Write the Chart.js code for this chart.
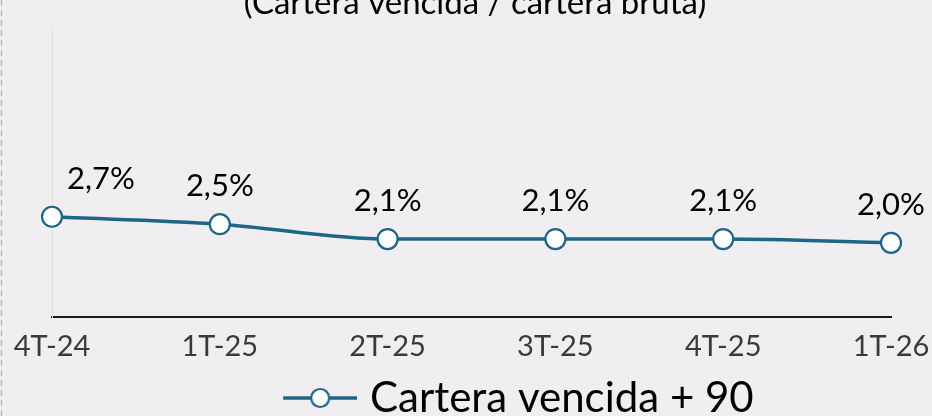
<!DOCTYPE html>
<html>
<head>
<meta charset="utf-8">
<script src="https://cdn.jsdelivr.net/npm/chart.js@4.4.1/dist/chart.umd.min.js"></script>
<style>
    html, body { margin: 0; padding: 0; background: #f0eef1; }
    #myChart { display: block; }
</style>
</head>
<body>
<canvas id="myChart" width="932" height="416"></canvas>
<script>
var quarters = ['4T-24', '1T-25', '2T-25', '3T-25', '4T-25', '1T-26'];
var carteraVencida = [2.7, 2.5, 2.1, 2.1, 2.1, 2.0];
var valueLabels = ['2,7%', '2,5%', '2,1%', '2,1%', '2,1%', '2,0%'];
var seriesName = 'Cartera vencida + 90';
var titleText = '(Cartera vencida / cartera bruta)';

var lineColor = '#1d6687';
var fontFamily = 'Lato, "DejaVu Sans", sans-serif';
var legendFontSize = 42;
var legendPadding = 1;

// legend marker: short line with a hollow circle, sitting at the right end of a wider box
var measure = document.createElement('canvas').getContext('2d');
measure.font = legendFontSize + 'px ' + fontFamily;
var legendTextWidth = measure.measureText(seriesName).width;
var legendBoxWidth = Math.max(legendTextWidth - 203 - legendFontSize / 2, 80);
var legendStart = 370 - legendBoxWidth - legendFontSize / 2;
var markerCenter = legendStart + legendBoxWidth / 2;
var markerWidth = Math.round(2 * (357 - markerCenter));

var marker = document.createElement('canvas');
marker.width = markerWidth;
marker.height = 26;
var m = marker.getContext('2d');
m.strokeStyle = lineColor;
m.lineWidth = 3.5;
m.beginPath();
m.moveTo(markerWidth - 74, 13);
m.lineTo(markerWidth, 13);
m.stroke();
m.beginPath();
m.arc(markerWidth - 37, 13, 9, 0, Math.PI * 2);
m.fillStyle = '#ffffff';
m.fill();
m.lineWidth = 2.2;
m.stroke();

var decorations = {
    id: 'decorations',
    beforeDraw: function (chart) {
        var c = chart.ctx;
        c.save();
        c.fillStyle = '#f0eef1';
        c.fillRect(0, 0, chart.width, chart.height);
        c.strokeStyle = '#bdbdbd';
        c.lineWidth = 1.5;
        c.setLineDash([6, 4]);
        c.beginPath();
        c.moveTo(1.5, 0);
        c.lineTo(1.5, chart.height);
        c.stroke();
        c.setLineDash([]);
        c.fillStyle = '#000000';
        c.font = '33px ' + fontFamily;
        c.textAlign = 'center';
        c.textBaseline = 'alphabetic';
        c.fillText(titleText, 475, 14);
        c.restore();
    },
    afterDatasetsDraw: function (chart) {
        var c = chart.ctx;
        var meta = chart.getDatasetMeta(0);
        c.save();
        c.fillStyle = '#000000';
        c.font = '31px ' + fontFamily;
        c.textBaseline = 'middle';
        meta.data.forEach(function (pt, i) {
            if (i === 0) {
                c.textAlign = 'left';
                c.fillText(valueLabels[i], pt.x + 15, pt.y - 38);
            } else {
                c.textAlign = 'center';
                c.fillText(valueLabels[i], pt.x, pt.y - 38);
            }
        });
        c.restore();
    }
};

var ctx = document.getElementById('myChart');

new Chart(ctx, {
    type: 'line',
    data: {
        labels: quarters,
        datasets: [{
            label: seriesName,
            data: carteraVencida,
            borderColor: lineColor,
            borderWidth: 3.5,
            cubicInterpolationMode: 'monotone',
            pointRadius: 10,
            pointHoverRadius: 10,
            pointBackgroundColor: '#ffffff',
            pointBorderColor: lineColor,
            pointBorderWidth: 2.2,
            fill: false
        }]
    },
    options: {
        responsive: false,
        animation: false,
        layout: {
            padding: { left: 52, right: 41, top: 27, bottom: -13 }
        },
        scales: {
            x: {
                offset: false,
                grid: { display: false, drawTicks: false },
                border: { color: '#1a1a1a', width: 2 },
                ticks: {
                    color: '#3a3a3a',
                    font: { family: fontFamily, size: 29 },
                    padding: 12,
                    autoSkip: false,
                    maxRotation: 0
                },
                afterFit: function (scale) {
                    scale.paddingLeft = 0;
                    scale.paddingRight = 0;
                }
            },
            y: {
                min: 0,
                max: 7.8,
                grid: { display: false, drawTicks: false },
                border: { color: '#e0dee3', width: 1 },
                ticks: { display: false },
                afterFit: function (scale) { scale.width = 0; }
            }
        },
        plugins: {
            title: { display: false },
            tooltip: { enabled: false },
            legend: {
                position: 'bottom',
                labels: {
                    usePointStyle: true,
                    pointStyleWidth: legendBoxWidth,
                    padding: legendPadding,
                    color: '#111111',
                    font: { family: fontFamily, size: legendFontSize },
                    generateLabels: function () {
                        return [{
                            text: seriesName,
                            pointStyle: marker,
                            fillStyle: '#ffffff',
                            strokeStyle: lineColor,
                            lineWidth: 0,
                            hidden: false,
                            datasetIndex: 0
                        }];
                    }
                }
            }
        }
    },
    plugins: [decorations]
});
</script>
</body>
</html>
